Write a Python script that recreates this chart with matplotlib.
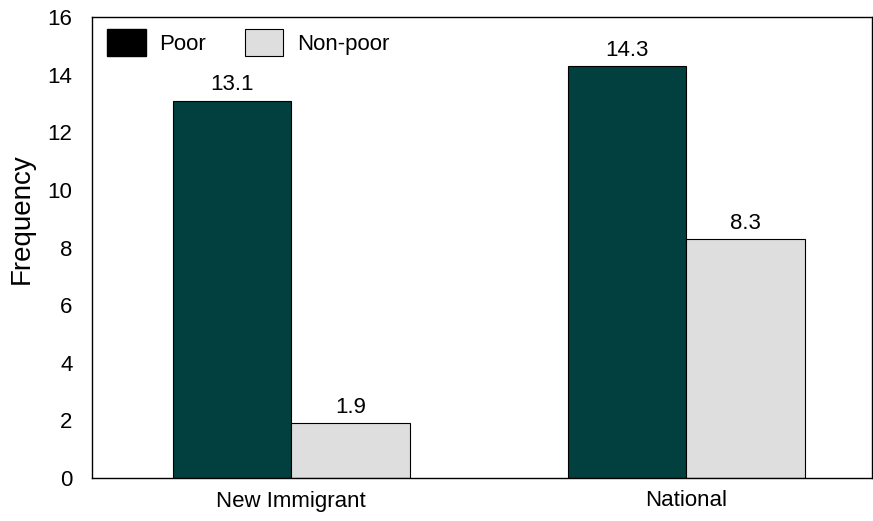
import matplotlib
matplotlib.use("Agg")
import matplotlib.pyplot as plt
import numpy as np
from matplotlib.patches import Patch

plt.rcParams['font.family'] = ['Liberation Sans', 'DejaVu Sans']

categories = ["New Immigrant", "National"]
poor = [13.1, 14.3]
non_poor = [1.9, 8.3]
series_names = ["Poor", "Non-poor"]
yticks = [0, 2, 4, 6, 8, 10, 12, 14, 16]

fig = plt.figure(figsize=(8.73, 5.21), dpi=100)
ax = fig.add_axes([92/873, 43/521, (872-92)/873, (478-17)/521])

x = np.arange(len(categories))
w = 0.3
b1 = ax.bar(x - w/2, poor, w, color="#024040", edgecolor="black", linewidth=0.8)
b2 = ax.bar(x + w/2, non_poor, w, color="#dedede", edgecolor="black", linewidth=0.8)

for bars, vals in ((b1, poor), (b2, non_poor)):
    for r, v in zip(bars, vals):
        ax.text(r.get_x() + r.get_width()/2, v + 0.18, f"{v:.1f}",
                ha="center", va="bottom", fontsize=16)

ax.set_xlim(-0.504, 1.47)
ax.set_ylim(0, 16)
ax.set_yticks(yticks)
ax.set_xticks(x)
ax.set_xticklabels(categories)
ax.tick_params(axis="both", length=0, labelsize=16)
ax.tick_params(axis="y", pad=14)
ax.tick_params(axis="x", pad=9)
ax.set_ylabel("Frequency", fontsize=20, labelpad=9, y=0.563)
for s in ax.spines.values():
    s.set_linewidth(1.0)

handles = [Patch(facecolor="black", edgecolor="black"),
           Patch(facecolor="#dedede", edgecolor="black", linewidth=0.8)]
ax.legend(handles, series_names, ncol=2, frameon=False, fontsize=16,
          loc="upper left", bbox_to_anchor=(-0.004, 1.012),
          handlelength=1.75, handleheight=1.45, handletextpad=0.6,
          columnspacing=1.75, borderaxespad=0.4)

fig.savefig("out.png", dpi=100)
